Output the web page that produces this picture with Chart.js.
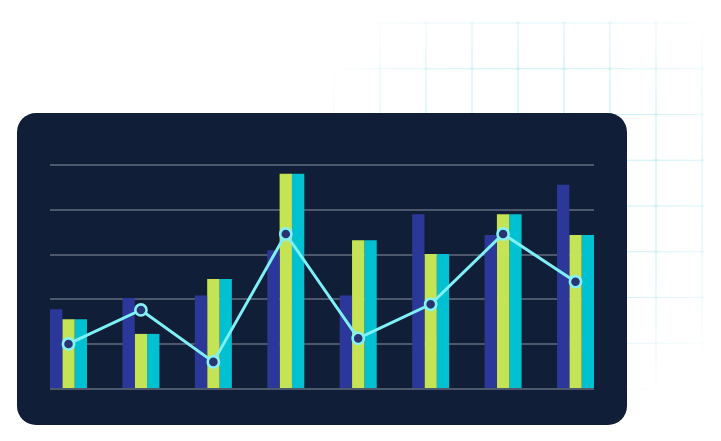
<!DOCTYPE html>
<html>
<head>
<meta charset="utf-8">
<script src="https://cdn.jsdelivr.net/npm/chart.js@4/dist/chart.umd.min.js"></script>
<style>
  html, body { margin:0; padding:0; background:#ffffff; width:721px; height:441px; overflow:hidden; font-family:"DejaVu Sans", sans-serif; }
  #bg { position:absolute; left:0; top:0; width:721px; height:441px; }
  #panel { position:absolute; left:17px; top:113px; width:610px; height:312px; border-radius:19px; background:#111e38; }
  #c { position:absolute; left:0; top:0; }
</style>
</head>
<body>
<svg id="bg" width="721" height="441" xmlns="http://www.w3.org/2000/svg">
  <defs>
    <radialGradient id="fade" gradientUnits="userSpaceOnUse" cx="535" cy="190" r="240">
      <stop offset="0" stop-color="#fff" stop-opacity="1"/>
      <stop offset="0.55" stop-color="#fff" stop-opacity="0.8"/>
      <stop offset="1" stop-color="#fff" stop-opacity="0"/>
    </radialGradient>
    <mask id="m"><rect x="0" y="0" width="721" height="441" fill="url(#fade)"/></mask>
  </defs>
  <g id="grid" mask="url(#m)" stroke="#c3edf3" stroke-width="1.2" fill="#c3edf3"></g>
</svg>
<div id="panel"></div>
<canvas id="c" width="721" height="441"></canvas>
<script>
// ---- data ----
const categories = ['Jan', 'Feb', 'Mar', 'Apr', 'May', 'Jun', 'Jul', 'Aug'];
const seriesBlue = [35.6, 40.6, 41.7, 61.9, 41.7, 78.0, 68.8, 91.2];
const seriesLime = [31.1, 24.6, 49.1, 96.1, 66.4, 60.3, 78.0, 68.8];
const seriesTeal = [31.1, 24.6, 49.1, 96.1, 66.4, 60.3, 78.0, 68.8];
const lineValues = [20.1, 35.3, 12.1, 69.2, 22.6, 37.8, 69.2, 47.9];
const yTicks = [0, 20, 40, 60, 80, 100];

// ---- decorative background grid ----
(function () {
  const g = document.getElementById('grid');
  const ns = 'http://www.w3.org/2000/svg';
  const xs = [], ys = [];
  for (let i = 0; i <= 8; i++) xs.push(334 + i * 46);
  for (let j = 0; j <= 8; j++) ys.push(23 + j * 45.75);
  xs.forEach(x => { const l = document.createElementNS(ns, 'line'); l.setAttribute('x1', x); l.setAttribute('x2', x); l.setAttribute('y1', ys[0]); l.setAttribute('y2', ys[ys.length - 1]); g.appendChild(l); });
  ys.forEach(y => { const l = document.createElementNS(ns, 'line'); l.setAttribute('y1', y); l.setAttribute('y2', y); l.setAttribute('x1', xs[0]); l.setAttribute('x2', xs[xs.length - 1]); g.appendChild(l); });
  xs.forEach(x => ys.forEach(y => { const c = document.createElementNS(ns, 'circle'); c.setAttribute('cx', x); c.setAttribute('cy', y); c.setAttribute('r', 1.8); c.setAttribute('stroke', 'none'); g.appendChild(c); }));
})();

const toXY = arr => arr.map((v, i) => ({ x: i, y: v }));
const half = 0.2554;

new Chart(document.getElementById('c'), {
  data: {
    labels: categories,
    datasets: [
      { type: 'line', label: 'Trend', data: toXY(lineValues), order: 0,
        borderColor: '#7ef0f7', borderWidth: 3, tension: 0,
        pointRadius: 5.6, pointBorderWidth: 2.6, pointBackgroundColor: '#293571', pointBorderColor: '#86f2f8' },
      { type: 'bar', label: 'Series A', data: toXY(seriesBlue), order: 1, backgroundColor: '#2c379a', borderWidth: 0 },
      { type: 'bar', label: 'Series B', data: toXY(seriesLime), order: 1, backgroundColor: '#c5e455', borderWidth: 0 },
      { type: 'bar', label: 'Series C', data: toXY(seriesTeal), order: 1, backgroundColor: '#00c1d1', borderWidth: 0 }
    ]
  },
  options: {
    responsive: false,
    animation: false,
    layout: { padding: { left: 50, right: 127, top: 165, bottom: 52 } },
    datasets: { bar: { categoryPercentage: 0.511, barPercentage: 1.0 } },
    plugins: { legend: { display: false }, tooltip: { enabled: false } },
    scales: {
      x: { type: 'linear', min: -half, max: categories.length - 1 + half, display: false, offset: false },
      y: {
        min: yTicks[0], max: yTicks[yTicks.length - 1],
        afterBuildTicks: s => { s.ticks = yTicks.map(v => ({ value: v })); },
        ticks: { display: false },
        border: { display: false },
        grid: { color: '#4e586c', lineWidth: 2, drawTicks: false }
      }
    }
  }
});
</script>
</body>
</html>
